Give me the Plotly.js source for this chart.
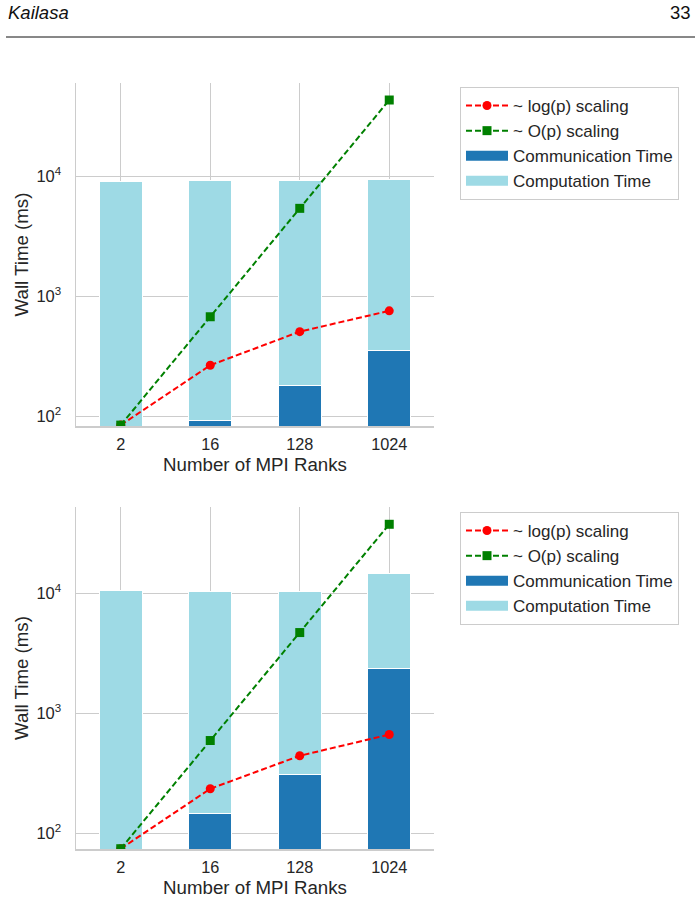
<!DOCTYPE html>
<html>
<head>
<meta charset="utf-8">
<script src="https://cdn.plot.ly/plotly-3.0.1.min.js"></script>
<style>
html,body{margin:0;padding:0;background:#fff;}
#chart{width:700px;height:902px;}
</style>
</head>
<body>
<div id="chart"></div>
<script>
// ---- data ----
const ranks = ["2", "16", "128", "1024"];
// top panel
const commTop = [0, 92, 178, 355];
const compTop = [8970, 9010, 9080, 9085];
const logScaleTop = [84, 265, 505, 753];
const linScaleTop = [84, 672, 5380, 43000];
// bottom panel
const commBot = [0, 145, 308, 2350];
const compBot = [10590, 10105, 10020, 12150];
const logScaleBot = [74, 234, 441, 663];
const linScaleBot = [74, 591, 4700, 37600];
const yTickVals = [100, 1000, 10000];
const yTickText = ["10<sup>2</sup>", "10<sup>3</sup>", "10<sup>4</sup>"];

const FONT = "Liberation Sans, Arial, Helvetica, sans-serif";
const TXT = "#262626";
const GRID = "#cccccc";
const DARK = "#1f77b4";
const LIGHT = "#9edae5";

function panel(xa, ya, leg, comm, comp, logv, linv) {
  return [
    {type: "bar", x: ranks, y: comm, xaxis: xa, yaxis: ya, legend: leg, showlegend: false,
     name: "Communication Time", width: 0.48,
     marker: {color: DARK, line: {color: "#ffffff", width: 1}}},
    {type: "bar", x: ranks, y: comp, xaxis: xa, yaxis: ya, legend: leg, showlegend: false,
     name: "Computation Time", width: 0.48,
     marker: {color: LIGHT, line: {color: "#ffffff", width: 1}}},
    {type: "scatter", mode: "lines+markers", x: ranks, y: logv, xaxis: xa, yaxis: ya, legend: leg,
     name: "~ log(p) scaling", line: {color: "#ff0000", width: 2, dash: "6px,3px"},
     marker: {symbol: "circle", size: 9, color: "#ff0000"}, legendrank: 1},
    {type: "scatter", mode: "lines+markers", x: ranks, y: linv, xaxis: xa, yaxis: ya, legend: leg,
     name: "~ O(p) scaling", line: {color: "#008000", width: 2, dash: "6px,3px"},
     marker: {symbol: "square", size: 9, color: "#008000"}, legendrank: 2},
    // legend-only entries drawn as wide patches, mirroring the bar traces
    {type: "scatter", mode: "lines", x: [null], y: [null], xaxis: xa, yaxis: ya, legend: leg,
     name: "Communication Time", line: {color: DARK, width: 10}, legendrank: 3, hoverinfo: "skip"},
    {type: "scatter", mode: "lines", x: [null], y: [null], xaxis: xa, yaxis: ya, legend: leg,
     name: "Computation Time", line: {color: LIGHT, width: 10}, legendrank: 4, hoverinfo: "skip"}
  ];
}

const data = [].concat(
  panel("x", "y", "legend", commTop, compTop, logScaleTop, linScaleTop),
  panel("x2", "y2", "legend2", commBot, compBot, logScaleBot, linScaleBot)
);

function xaxis(anchor) {
  return {
    domain: [76/700, 434/700], anchor: anchor, type: "category",
    range: [-0.5, 3.5], showgrid: true, gridcolor: GRID, gridwidth: 1,
    showline: true, linecolor: GRID, linewidth: 1.5, ticks: "", zeroline: false,
    tickfont: {family: FONT, size: 16.3, color: TXT}, ticklabelstandoff: 3,
    title: {text: "Number of MPI Ranks", font: {family: FONT, size: 18.7, color: TXT}, standoff: 6}
  };
}
function yaxis(dom, anchor, lo, hi) {
  return {
    domain: dom, anchor: anchor, type: "log", range: [Math.log10(lo), Math.log10(hi)],
    tickvals: yTickVals, ticktext: yTickText, showgrid: true, gridcolor: GRID, gridwidth: 1,
    showline: true, linecolor: GRID, linewidth: 1.5, ticks: "", zeroline: false,
    tickfont: {family: FONT, size: 16.5, color: TXT}, ticklabelstandoff: 10,
    title: {text: "Wall Time (ms)", font: {family: FONT, size: 18.7, color: TXT}, standoff: 3}
  };
}
function legend(ytop) {
  return {
    x: 460/700, xanchor: "left", y: ytop, yanchor: "top",
    bgcolor: "#ffffff", bordercolor: GRID, borderwidth: 1,
    font: {family: FONT, size: 17, color: TXT}, traceorder: "normal",
    itemwidth: 42, tracegroupgap: 0
  };
}

const layout = {
  width: 700, height: 902,
  margin: {l: 0, r: 0, t: 0, b: 0},
  paper_bgcolor: "#ffffff", plot_bgcolor: "#ffffff",
  barmode: "stack",
  showlegend: true,
  xaxis: xaxis("y"),
  yaxis: yaxis([(902-426)/902, (902-83)/902], "x", 82.6, 59600),
  xaxis2: xaxis("y2"),
  yaxis2: yaxis([(902-849)/902, (902-507)/902], "x2", 73.6, 52400),
  legend: legend((902-87)/902),
  legend2: legend((902-512)/902),
  annotations: [
    {xref: "paper", yref: "paper", x: 6/700, y: (902-13)/902, xanchor: "left", yanchor: "middle",
     text: "<i>Kailasa</i>", showarrow: false, font: {family: FONT, size: 18.5, color: "#111111"}},
    {xref: "paper", yref: "paper", x: 693/700, y: (902-13)/902, xanchor: "right", yanchor: "middle",
     text: "33", showarrow: false, font: {family: FONT, size: 18.5, color: "#111111"}}
  ],
  shapes: [
    {type: "line", xref: "paper", yref: "paper", x0: 6/700, x1: 695/700, y0: (902-37)/902, y1: (902-37)/902,
     line: {color: "#111111", width: 1}}
  ]
};

Plotly.newPlot("chart", data, layout, {displayModeBar: false, staticPlot: true});
</script>
</body>
</html>
